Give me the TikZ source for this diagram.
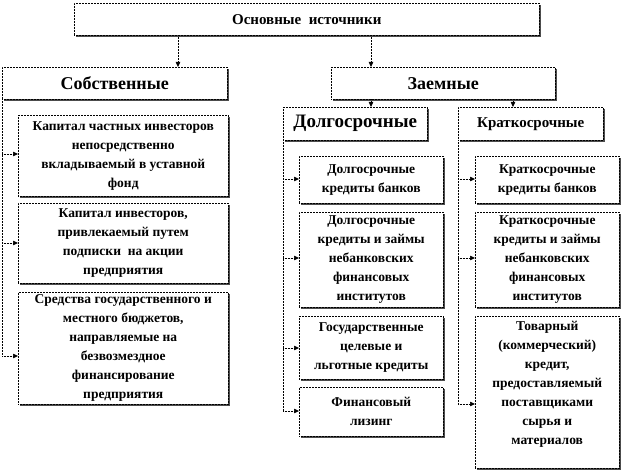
\documentclass[tikz,border=0pt]{standalone}
\usepackage{fontspec}
\setmainfont{Liberation Serif}
\usetikzlibrary{arrows.meta,shadows}
\begin{document}
\begin{tikzpicture}[x=1pt,y=-1pt,
  box/.style={draw=black, densely dotted, line width=0.5pt, fill=white,
    general shadow={fill=black!70, shadow xshift=1.3pt, shadow yshift=-1.3pt},
    inner sep=0pt, align=center, anchor=north west,
    font=\bfseries\fontsize{13.5}{19}\selectfont},
  conn/.style={densely dotted, line width=0.5pt, -{Triangle[length=5pt,width=4.5pt]}},
  trunk/.style={densely dotted, line width=0.5pt}]
\useasboundingbox (0,0) rectangle (622,470);
% headers
\node[box, minimum width=465, minimum height=32, font=\bfseries\fontsize{15}{17}\selectfont] (top) at (74,3) {Основные\ \ источники};
\node[box, minimum width=225, minimum height=32, font=\bfseries\fontsize{18}{20}\selectfont] (sob) at (2,67) {Собственные};
\node[box, minimum width=224, minimum height=32, font=\bfseries\fontsize{18}{20}\selectfont] (zaem) at (331,67) {Заемные};
\node[box, minimum width=144, minimum height=33, font=\bfseries\fontsize{19}{21}\selectfont] (dolg) at (283,107) {Долгосрочные};
\node[box, minimum width=145, minimum height=33, font=\bfseries\fontsize{15}{17}\selectfont] (krat) at (458,107) {Краткосрочные};
% own sources
\node[box, minimum width=210, minimum height=81] (s1) at (18,115) {Капитал частных инвесторов\\непосредственно\\вкладываемый в уставной\\фонд};
\node[box, minimum width=210, minimum height=80] (s2) at (18,203) {Капитал инвесторов,\\привлекаемый путем\\подписки\ \ на акции\\предприятия};
\node[box, minimum width=210, minimum height=112] (s3) at (18,292) {Средства государственного и\\местного бюджетов,\\направляемые на\\безвозмездное\\финансирование\\предприятия};
% long-term
\node[box, minimum width=144, minimum height=47] (d1) at (299,156) {Долгосрочные\\кредиты банков};
\node[box, minimum width=144, minimum height=95] (d2) at (299,212) {Долгосрочные\\кредиты и займы\\небанковских\\финансовых\\институтов};
\node[box, minimum width=144, minimum height=63] (d3) at (299,316) {Государственные\\целевые и\\льготные кредиты};
\node[box, minimum width=144, minimum height=49] (d4) at (299,387) {Финансовый\\лизинг};
% short-term
\node[box, minimum width=144, minimum height=47] (k1) at (475,156) {Краткосрочные\\кредиты банков};
\node[box, minimum width=144, minimum height=95] (k2) at (475,212) {Краткосрочные\\кредиты и займы\\небанковских\\финансовых\\институтов};
\node[box, minimum width=144, minimum height=152] (k3) at (475,316) {Товарный\\(коммерческий)\\кредит,\\предоставляемый\\поставщиками\\сырья и\\материалов\\\mbox{}};
% helper coordinates
\coordinate (xa) at (178,0);
\coordinate (xb) at (371,0);
\coordinate (xc) at (513,0);
\coordinate (ys1) at (0,154);
\coordinate (ys2) at (0,243);
\coordinate (ys3) at (0,356);
\coordinate (yd1) at (0,179);
\coordinate (yd2) at (0,258);
\coordinate (yd3) at (0,348);
\coordinate (yd4) at (0,411);
\coordinate (yk3) at (0,404);
% top-level arrows
\draw[conn] (top.south -| xa) -- (sob.north -| xa);
\draw[conn] (top.south -| xb) -- (zaem.north -| xb);
\draw[conn] (zaem.south -| xb) -- (dolg.north -| xb);
\draw[conn] (zaem.south -| xc) -- (krat.north -| xc);
% own trunk
\draw[trunk] (sob.south west) -- (sob.south west |- ys3);
\draw[conn] (sob.south west |- ys1) -- (s1.west |- ys1);
\draw[conn] (sob.south west |- ys2) -- (s2.west |- ys2);
\draw[conn] (sob.south west |- ys3) -- (s3.west |- ys3);
% long-term trunk
\draw[trunk] (dolg.south west) -- (dolg.south west |- yd4);
\draw[conn] (dolg.south west |- yd1) -- (d1.west |- yd1);
\draw[conn] (dolg.south west |- yd2) -- (d2.west |- yd2);
\draw[conn] (dolg.south west |- yd3) -- (d3.west |- yd3);
\draw[conn] (dolg.south west |- yd4) -- (d4.west |- yd4);
% short-term trunk
\draw[trunk] (krat.south west) -- (krat.south west |- yk3);
\draw[conn] (krat.south west |- yd1) -- (k1.west |- yd1);
\draw[conn] (krat.south west |- yd2) -- (k2.west |- yd2);
\draw[conn] (krat.south west |- yk3) -- (k3.west |- yk3);
\end{tikzpicture}
\end{document}
